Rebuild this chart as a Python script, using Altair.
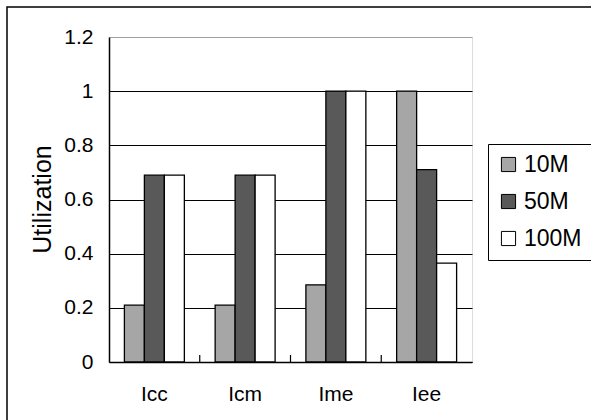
import altair as alt
import pandas as pd

categories = ["Icc", "Icm", "Ime", "Iee"]
series = ["10M", "50M", "100M"]
v10 = [0.21, 0.21, 0.285, 1.0]
v50 = [0.69, 0.69, 1.0, 0.71]
v100 = [0.69, 0.69, 1.0, 0.365]
colors = ["#a6a6a6", "#595959", "#ffffff"]
yticks = [0, 0.2, 0.4, 0.6, 0.8, 1, 1.2]

rows = []
for s, vals in zip(series, [v10, v50, v100]):
    for c, v in zip(categories, vals):
        rows.append({"cat": c, "series": s, "value": v})
df = pd.DataFrame(rows)
bdf = pd.DataFrame({"cat": categories[1:]})

W, H = 363, 325
PL, PT = 109, 37
FONT = "Liberation Sans"

xscale = alt.Scale(domain=categories, paddingInner=0, paddingOuter=0)

frame = alt.Chart(pd.DataFrame({"a": [0]})).mark_rect(
    fill=None, stroke="black", strokeWidth=1.5
).encode(
    x=alt.value(-102), x2=alt.value(600), y=alt.value(-30), y2=alt.value(420)
)

bars = alt.Chart(df).mark_bar(stroke="black", strokeWidth=1.3).encode(
    x=alt.X("cat:N", scale=xscale, sort=categories,
            axis=alt.Axis(title=None, labelFontSize=21, labelAngle=0, ticks=False,
                          labelPadding=21, domainColor="black", domainWidth=1.5,
                          labelColor="black", labelFont=FONT)),
    xOffset=alt.XOffset("series:N", sort=series,
                        scale=alt.Scale(domain=series, paddingInner=0, paddingOuter=0.77)),
    y=alt.Y("value:Q", scale=alt.Scale(domain=[0, 1.2], nice=False),
            axis=alt.Axis(title="Utilization", values=yticks, format="~g",
                          labelFontSize=21, labelColor="black", labelFont=FONT,
                          ticks=False, labelPadding=16,
                          domainColor="black", domainWidth=1.5,
                          grid=True,
                          gridColor=alt.condition("datum.value >= 1.19", alt.value("#a0a0a0"), alt.value("black")),
                          gridWidth=1,
                          titleFontSize=25, titleFont=FONT, titleFontWeight="normal",
                          titleColor="black", titleAngle=270, titleX=-67, titleY=162,
                          titleAlign="center", titleBaseline="middle")),
    fill=alt.Fill("series:N", sort=series,
                  scale=alt.Scale(domain=series, range=colors),
                  legend=alt.Legend(title=None, orient="none", legendX=379, legendY=107,
                                    symbolType="square", symbolSize=200,
                                    symbolStrokeColor="black", symbolStrokeWidth=1,
                                    symbolFillColor="white",
                                    labelFontSize=23, labelFont=FONT, labelColor="black",
                                    labelOffset=4,
                                    rowPadding=13, padding=9,
                                    strokeColor="black", fillColor="white")),
)

btick = alt.Chart(bdf).mark_rule(color="black", strokeWidth=1.2).encode(
    x=alt.X("cat:N", scale=xscale, sort=categories, bandPosition=0),
    y=alt.value(H - 7), y2=alt.value(H),
)

chart = alt.layer(frame, bars, btick).properties(
    width=W, height=H,
    autosize=alt.AutoSizeParams(type="none"),
    padding={"left": PL, "top": PT, "right": 591 - PL - W, "bottom": 420 - PT - H},
).configure_view(stroke="#a0a0a0", strokeWidth=1).configure(background="white")

chart.save("out.html", embed_options={"renderer": "svg", "actions": False})
